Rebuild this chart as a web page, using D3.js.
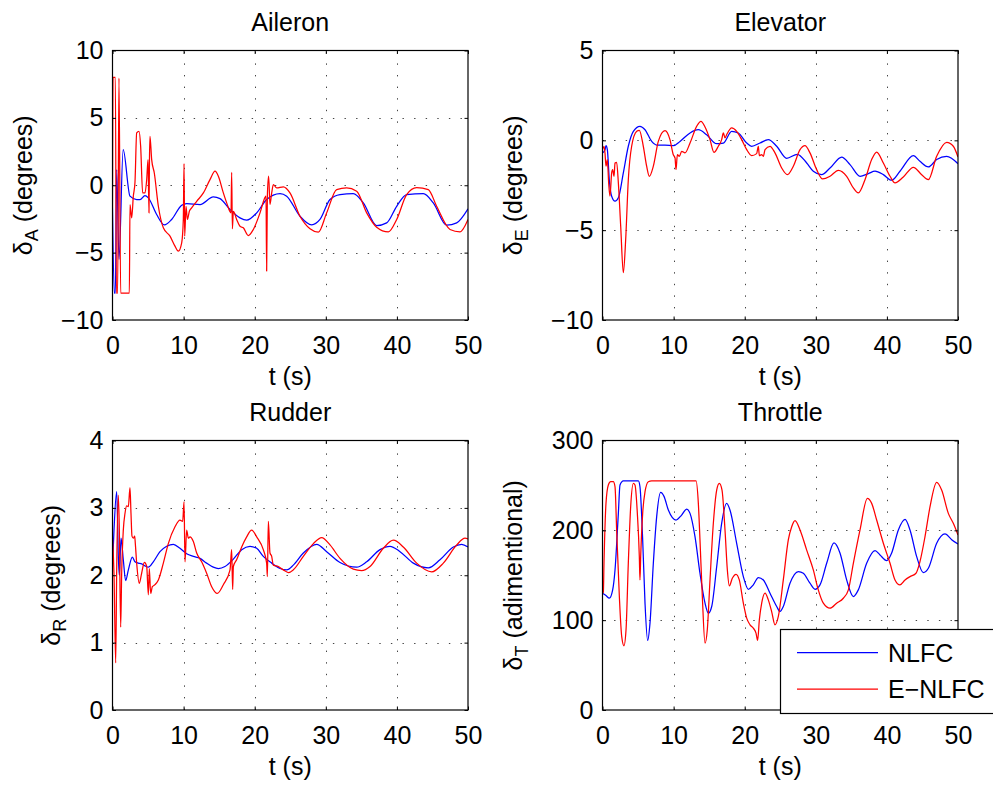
<!DOCTYPE html>
<html>
<head>
<meta charset="utf-8">
<script src="https://cdn.jsdelivr.net/npm/d3@7"></script>
<style>
  html, body { margin: 0; padding: 0; background: #fff; }
  svg { display: block; font-family: "Liberation Sans", Arial, Helvetica, sans-serif; }
</style>
</head>
<body>
<svg id="fig" width="993" height="785"></svg>
<script>
// ---- tick values ----
const tTicks        = [0, 10, 20, 30, 40, 50];
const aileronTicks  = [-10, -5, 0, 5, 10];
const elevatorTicks = [-10, -5, 0, 5];
const rudderTicks   = [0, 1, 2, 3, 4];
const throttleTicks = [0, 100, 200, 300];

// ---- control histories: [t (s), value] ----
const aileronNLFC = [
  [0,-1.7],[0.25,-8],[0.4,-8],[0.59,1.16],[0.91,-5.5],[1.5,2.64],[2.46,-0.81],[3.4,-1.06],
  [3.87,-1.06],[4.57,-0.77],[5.04,-0.94],[6.21,-2.17],[7.29,-2.94],[8.32,-2.54],[9.73,-1.48],
  [10.43,-1.36],[12.31,-1.43],[14.18,-0.86],[15.12,-0.99],[16.53,-1.8],[17.93,-2.42],
  [18.87,-2.59],[20.28,-2.05],[21.68,-1.06],[23.56,-0.62],[24.5,-0.81],[26.37,-2.3],
  [28.01,-2.94],[29.18,-2.54],[30.59,-1.06],[32.0,-0.69],[33.87,-0.62],[35.28,-1.31],
  [37.15,-2.99],[38.56,-2.79],[39.97,-1.56],[41.37,-0.69],[43.72,-0.62],[45.12,-1.31],
  [47.0,-2.96],[48.41,-2.79],[50,-1.75]
];
const aileronENLFC = [
  [0,-1.7],[0.08,8],[0.4,8],[0.55,-8],[0.72,-8],[0.91,7.95],[1.15,-8],[2.37,-8],[2.46,-1.43],
  [2.7,-2.42],[2.93,-0.81],[3.16,0.2],[3.4,3.88],[3.73,4.0],[3.96,2.89],[4.24,-0.57],
  [4.57,-0.57],[4.81,0.42],[5.0,1.9],[5.13,-2.05],[5.2,1.9],[5.27,3.63],[5.51,1.9],
  [5.88,0.91],[6.45,-1.56],[7.15,-3.16],[8.09,-3.78],[8.79,-4.52],[9.26,-4.89],[9.73,-4.27],
  [9.96,-2.54],[10.06,1.6],[10.15,-3.78],[10.34,-1.56],[10.53,-2.54],[10.81,-1.93],
  [11.13,-1.68],[11.84,-1.19],[12.78,-0.57],[13.71,0.42],[14.42,1.04],[14.89,0.67],
  [15.59,-0.57],[16.06,-1.31],[16.67,-2.05],[16.76,0.96],[16.86,-3.23],[17.0,-1.93],
  [17.46,-2.54],[17.93,-3.04],[18.4,-3.16],[19.1,-3.73],[19.81,-3.28],[20.75,-2.05],
  [21.45,-0.9],[21.59,-0.8],[21.68,-6.37],[21.78,-0.8],[21.96,0.67],[22.15,-1.43],
  [22.39,-0.57],[22.62,0.05],[23.09,-0.2],[24.03,-0.12],[24.96,-0.57],[26.37,-2.3],
  [27.78,-3.23],[28.95,-3.48],[30.12,-2.05],[31.53,-0.32],[32.93,-0.2],[34.34,-0.44],
  [35.75,-2.05],[37.15,-3.11],[38.8,-3.46],[39.97,-2.54],[41.37,-0.69],[42.78,-0.17],
  [44.42,-0.32],[45.59,-1.56],[47.47,-3.28],[48.87,-3.46],[50,-2.54]
];

const elevatorNLFC = [
  [0,-0.7],[0.35,-0.52],[0.49,-0.3],[0.68,-0.52],[0.96,-2.22],[1.29,-3.11],[1.76,-3.39],
  [2.23,-3.2],[2.93,-1.81],[3.63,-0.33],[4.34,0.5],[5.27,0.78],[5.98,0.59],[6.92,-0.06],
  [7.62,-0.26],[8.79,-0.26],[9.96,-0.3],[10.9,-0.06],[12.31,0.41],[13.48,0.59],[14.65,0.31],
  [16.06,-0.19],[17.0,-0.15],[18.17,0.5],[19.1,0.41],[20.28,-0.15],[20.98,-0.33],
  [22.15,-0.15],[23.32,0.04],[24.5,-0.33],[25.9,-1.0],[27.4,-0.78],[28.72,-1.26],
  [29.65,-1.72],[30.82,-1.91],[32.0,-1.54],[33.64,-0.93],[34.81,-1.35],[36.22,-2.0],
  [37.39,-1.85],[38.33,-1.72],[39.5,-1.91],[40.67,-2.22],[41.84,-1.72],[43.72,-0.85],
  [44.65,-1.17],[45.83,-1.48],[47.0,-1.07],[48.41,-0.89],[50,-1.3]
];
const elevatorENLFC = [
  [0,-0.52],[0.21,-0.33],[0.35,-0.7],[0.49,-1.44],[0.68,-1.07],[0.87,-2.4],[1.05,-3.11],
  [1.29,-1.81],[1.43,-1.63],[1.62,-2.0],[1.76,-1.26],[1.99,-1.22],[2.23,-2.37],[2.56,-4.78],
  [2.93,-7.37],[3.26,-5.52],[3.63,-2.19],[4.1,-0.33],[4.81,0.5],[5.18,0.56],[5.74,-0.33],
  [6.21,-1.44],[6.59,-2.0],[7.15,-1.44],[7.85,-0.06],[8.79,0.54],[9.49,0.04],[9.96,-0.8],
  [10.2,-0.98],[10.34,-1.63],[10.53,-0.8],[10.81,-0.89],[11.13,-0.61],[11.6,-0.7],
  [12.31,-0.15],[13.24,0.78],[13.85,1.06],[14.42,0.74],[15.12,0.04],[15.68,-0.67],
  [16.29,-0.33],[16.76,0.04],[17.0,0.41],[17.23,0.13],[17.46,0.31],[18.17,0.69],
  [18.87,0.5],[19.57,0.04],[20.28,-0.52],[20.98,-0.85],[21.68,-0.74],[21.92,-0.33],
  [22.06,-0.85],[22.39,-0.8],[22.62,-0.89],[22.86,-0.52],[23.56,-0.33],[24.26,-0.7],
  [25.2,-1.54],[26.0,-1.91],[26.84,-1.44],[27.78,-0.52],[28.48,-0.3],[29.18,-0.7],
  [30.12,-1.63],[30.96,-2.15],[32.0,-2.0],[33.17,-1.67],[34.34,-2.0],[35.28,-2.65],
  [35.98,-2.93],[36.92,-2.19],[37.86,-1.07],[38.56,-0.65],[39.5,-1.26],[40.44,-2.0],
  [41.14,-2.37],[42.31,-2.04],[43.72,-1.5],[44.89,-1.91],[45.83,-2.19],[47.0,-0.89],
  [48.41,-0.11],[49.34,-0.33],[50,-0.93]
];

const rudderNLFC = [
  [0,2.13],[0.21,2.67],[0.59,3.24],[0.82,2.28],[0.96,2.0],[1.2,2.55],[1.52,2.23],[1.85,1.92],
  [2.23,2.08],[2.79,2.27],[3.16,2.2],[3.63,2.18],[4.1,2.17],[4.57,2.14],[5.04,2.12],
  [5.74,2.2],[6.68,2.35],[7.62,2.43],[8.56,2.46],[9.49,2.4],[10.43,2.32],[11.37,2.28],
  [12.31,2.25],[13.24,2.18],[14.18,2.12],[14.89,2.1],[15.82,2.13],[17.0,2.24],[18.17,2.38],
  [19.34,2.43],[20.28,2.4],[21.21,2.28],[22.39,2.18],[23.56,2.1],[24.5,2.08],[25.43,2.15],
  [26.84,2.33],[28.72,2.46],[30.12,2.35],[32.0,2.19],[34.34,2.12],[35.75,2.2],[37.62,2.38],
  [39.03,2.43],[40.44,2.35],[42.31,2.18],[44.42,2.11],[46.06,2.23],[47.94,2.42],
  [49.11,2.46],[50,2.42]
];
const rudderENLFC = [
  [0,2.55],[0.21,2.03],[0.45,0.7],[0.59,2.08],[0.82,3.19],[0.96,2.67],[1.15,1.23],[1.29,2.03],
  [1.52,2.67],[1.76,2.92],[1.99,3.03],[2.23,3.02],[2.46,3.3],[2.6,2.92],[2.74,2.58],
  [2.93,2.55],[3.12,2.58],[3.21,2.47],[3.4,2.18],[3.77,1.88],[4.1,2.03],[4.48,2.19],
  [4.81,2.13],[5.04,1.71],[5.18,2.1],[5.37,1.73],[5.6,1.83],[5.98,1.86],[6.45,1.93],
  [7.15,2.18],[7.85,2.47],[8.79,2.72],[9.49,2.82],[9.87,2.8],[10.06,3.09],[10.2,2.2],
  [10.43,2.67],[10.67,2.55],[10.9,2.57],[11.37,2.5],[11.84,2.33],[12.54,2.2],[13.24,2.03],
  [13.95,1.83],[14.74,1.73],[15.59,1.86],[16.53,2.08],[16.76,2.38],[16.9,1.79],[17.0,2.13],
  [17.46,2.23],[18.17,2.42],[18.87,2.57],[19.57,2.67],[20.28,2.57],[21.21,2.38],
  [21.68,2.18],[21.78,1.98],[21.92,2.8],[22.15,2.33],[22.39,2.28],[22.62,2.15],[23.32,2.13],
  [24.03,2.08],[24.73,2.04],[25.43,2.08],[26.84,2.28],[28.25,2.47],[29.42,2.56],
  [30.59,2.45],[32.0,2.25],[33.87,2.09],[35.04,2.07],[36.22,2.13],[38.09,2.4],[39.5,2.52],
  [40.9,2.42],[42.78,2.18],[44.89,2.05],[46.53,2.18],[48.41,2.45],[49.58,2.55],[50,2.54]
];

const throttleNLFC = [
  [0,130],[0.49,127.4],[0.96,124.4],[1.43,133.7],[1.76,155.9],[2.23,218.9],[2.46,250.4],
  [2.93,255],[5.04,255],[5.27,248.5],[5.65,189.6],[5.98,118.9],[6.35,77.4],[6.68,96.7],
  [7.15,163.3],[7.62,215.2],[8.18,242.2],[8.65,237.8],[9.26,222.6],[10.34,211.5],
  [11.13,217],[11.84,223.7],[12.31,218.9],[13.01,193],[13.71,152.2],[14.42,118.9],
  [14.89,107.8],[15.36,115.2],[16.06,159.6],[16.76,207.8],[17.46,230],[17.93,222.6],
  [18.87,185.6],[19.81,148.5],[20.51,134.4],[21.21,139.3],[21.92,147.4],[22.62,144.8],
  [23.56,130],[24.5,115.2],[24.96,109.6],[25.43,115.2],[26.37,141.1],[27.55,154.1],
  [28.25,152.2],[29.18,141.1],[29.89,134.4],[30.59,139.3],[31.53,163.3],[32.56,186],
  [33.4,174.8],[34.34,144.8],[35.28,126.3],[35.98,133.7],[37.15,163.3],[38.33,177.4],
  [39.03,172.6],[39.97,166.3],[40.67,174.8],[41.61,200.4],[42.55,212.2],[43.25,200.4],
  [44.19,170.7],[45.12,153],[45.83,157.8],[47.0,185.6],[48.17,196],[49.11,189.6],[50,184.8]
];
const throttleENLFC = [
  [0,130],[0.12,131],[0.21,163.3],[0.49,230],[0.82,250.4],[1.15,254.1],[1.52,254.1],
  [1.76,248.5],[1.99,200.4],[2.37,126.3],[2.7,81.9],[3.02,71.5],[3.31,89.3],[3.63,163.3],
  [3.96,226],[4.34,252.2],[4.57,250.4],[4.9,218.9],[5.18,170.7],[5.27,144.8],[5.37,170.7],
  [5.65,218.9],[5.98,243],[6.45,254.1],[6.92,255],[13.15,255],[13.48,230],[13.71,189.6],
  [14.04,126.3],[14.42,74.4],[14.74,89.3],[15.12,144.8],[15.59,207.8],[16.06,244.8],
  [16.43,252.2],[16.81,244.8],[17.23,200.4],[17.56,155.9],[17.84,138.1],[18.26,146.7],
  [18.78,151.1],[19.24,144.8],[19.81,118.9],[20.28,102.2],[20.75,94.8],[21.21,91.1],
  [21.59,85.6],[21.82,77.4],[22.06,100.4],[22.39,118.9],[22.86,130],[23.32,122.6],
  [23.79,109.6],[24.26,94.8],[24.73,104.1],[25.43,144.8],[26.14,189.6],[26.61,204],
  [27.08,210.7],[27.78,200.4],[28.72,178],[29.65,155.9],[30.35,133.7],[31.06,118.9],
  [32.0,113.3],[32.93,118.9],[33.87,124.4],[34.58,133.7],[35.28,163.3],[36.22,200.4],
  [37.25,235.6],[37.86,230],[38.56,211.5],[39.5,185.6],[40.44,163.3],[41.14,144.8],
  [41.84,139.3],[42.55,144.8],[43.25,148.5],[44.09,152.2],[44.65,165.2],[45.36,193],
  [46.06,226],[47.0,253.3],[47.7,244.8],[48.64,218.9],[49.34,207.8],[50,194.8]
];

const seriesNames  = ["NLFC", "E\u2212NLFC"];
const seriesColors = ["#0000ff", "#ff0000"];

// ---- panel definitions ----
const panels = [
  { title: "Aileron",  sub: "A", unit: " (degrees)",      domain: [-10, 10], ticks: aileronTicks,
    data: [aileronNLFC, aileronENLFC],   x0: 112.5, x1: 468, y0: 50.5,  y1: 320, labelX: 32 },
  { title: "Elevator", sub: "E", unit: " (degrees)",      domain: [-10, 5],  ticks: elevatorTicks,
    data: [elevatorNLFC, elevatorENLFC], x0: 602.5, x1: 958, y0: 50.5,  y1: 320, labelX: 522 },
  { title: "Rudder",   sub: "R", unit: " (degrees)",      domain: [0, 4],    ticks: rudderTicks,
    data: [rudderNLFC, rudderENLFC],     x0: 112.5, x1: 468, y0: 440.5, y1: 710, labelX: 60 },
  { title: "Throttle", sub: "T", unit: " (adimentional)", domain: [0, 300],  ticks: throttleTicks,
    data: [throttleNLFC, throttleENLFC], x0: 602.5, x1: 958, y0: 440.5, y1: 710, labelX: 522, legend: true }
];

const FS = 25;
const svg = d3.select("#fig");
const fmt = d3.format("d");

panels.forEach((p, i) => {
  const x = d3.scaleLinear().domain([0, 50]).range([p.x0, p.x1]);
  const y = d3.scaleLinear().domain(p.domain).range([p.y1, p.y0]);
  const g = svg.append("g");

  // dotted grid
  const grid = g.append("g").attr("stroke", "#444").attr("stroke-width", 1)
    .attr("stroke-dasharray", "1.4,10.2");
  grid.selectAll("line.v").data(tTicks.slice(1, -1)).join("line")
    .attr("x1", d => Math.round(x(d)) + 0.5).attr("x2", d => Math.round(x(d)) + 0.5)
    .attr("y1", p.y1).attr("y2", p.y0);
  grid.selectAll("line.h").data(p.ticks.slice(1, -1)).join("line")
    .attr("y1", d => Math.round(y(d)) + 0.5).attr("y2", d => Math.round(y(d)) + 0.5)
    .attr("x1", p.x0).attr("x2", p.x1);

  // traces
  const clipId = "clip" + i;
  g.append("clipPath").attr("id", clipId).append("rect")
    .attr("x", p.x0).attr("y", p.y0).attr("width", p.x1 - p.x0).attr("height", p.y1 - p.y0);
  const line = d3.line().x(d => x(d[0])).y(d => y(d[1])).curve(d3.curveMonotoneX);
  g.append("g").attr("clip-path", `url(#${clipId})`)
    .selectAll("path").data(p.data).join("path")
    .attr("d", line).attr("fill", "none")
    .attr("stroke", (d, k) => seriesColors[k]).attr("stroke-width", 1.25)
    .attr("stroke-linejoin", "round");

  // axes (ticks point inward on all four sides)
  const styleAxis = sel => {
    sel.select(".domain").remove();
    sel.selectAll(".tick line").attr("stroke", "#000");
    sel.selectAll(".tick text").attr("fill", "#000").attr("font-size", FS)
      .attr("font-family", "\"Liberation Sans\", Arial, Helvetica, sans-serif");
  };
  g.append("g").attr("transform", `translate(0,${p.y1})`)
    .call(d3.axisBottom(x).tickValues(tTicks).tickFormat(fmt).tickSize(-3.5).tickPadding(16))
    .call(styleAxis);
  g.append("g").attr("transform", `translate(0,${p.y0})`)
    .call(d3.axisTop(x).tickValues(tTicks).tickFormat("").tickSize(-3.5))
    .call(styleAxis);
  g.append("g").attr("transform", `translate(${p.x0},0)`)
    .call(d3.axisLeft(y).tickValues(p.ticks).tickFormat(fmt).tickSize(-3.5).tickPadding(9))
    .call(styleAxis);
  g.append("g").attr("transform", `translate(${p.x1},0)`)
    .call(d3.axisRight(y).tickValues(p.ticks).tickFormat("").tickSize(-3.5))
    .call(styleAxis);

  // frame
  g.append("rect").attr("x", p.x0).attr("y", p.y0)
    .attr("width", p.x1 - p.x0).attr("height", p.y1 - p.y0)
    .attr("fill", "none").attr("stroke", "#000").attr("stroke-width", 1.2);

  // title and axis labels
  g.append("text").attr("x", (p.x0 + p.x1) / 2).attr("y", p.y0 - 19.5)
    .attr("text-anchor", "middle").attr("font-size", FS).text(p.title);
  g.append("text").attr("x", (p.x0 + p.x1) / 2).attr("y", p.y1 + 65)
    .attr("text-anchor", "middle").attr("font-size", FS).text("t (s)");
  const yl = g.append("text")
    .attr("transform", `translate(${p.labelX},${(p.y0 + p.y1) / 2}) rotate(-90)`)
    .attr("text-anchor", "middle").attr("font-size", FS);
  yl.append("tspan").text("\u03b4");
  yl.append("tspan").attr("font-size", 18).attr("dy", 6).text(p.sub);
  yl.append("tspan").attr("dy", -6).text(p.unit);

  // legend
  if (p.legend) {
    const lg = svg.append("g");
    lg.append("rect").attr("x", 780.5).attr("y", 629.5).attr("width", 240).attr("height", 84)
      .attr("fill", "#fff").attr("stroke", "#000").attr("stroke-width", 1.2);
    seriesNames.forEach((name, k) => {
      const yy = 652.5 + k * 36.5;
      lg.append("line").attr("x1", 797).attr("x2", 878).attr("y1", yy).attr("y2", yy)
        .attr("stroke", seriesColors[k]).attr("stroke-width", 1.25);
      lg.append("text").attr("x", 888).attr("y", yy + 9).attr("font-size", FS).text(name);
    });
  }
});
</script>
</body>
</html>
